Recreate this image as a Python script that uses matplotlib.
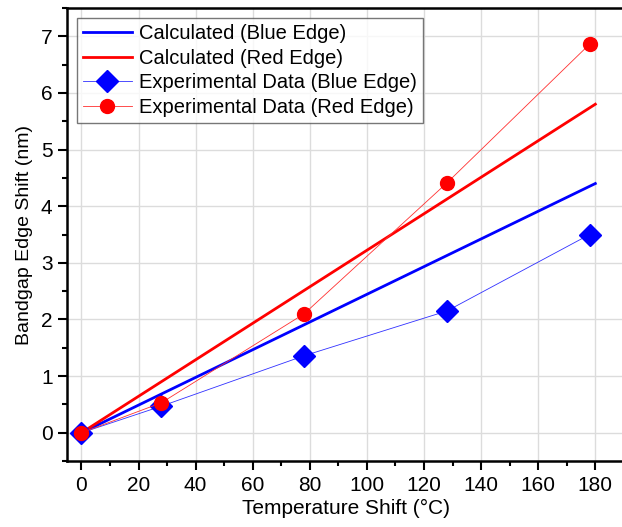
import matplotlib.pyplot as plt
import numpy as np
from matplotlib.ticker import MultipleLocator

plt.rcParams['font.family'] = ['Liberation Sans', 'DejaVu Sans']

# calculated shift (linear fits)
calc_t = [0, 180]
calc_blue = [0, 4.40]
calc_red = [0, 5.80]

# measured points
exp_t = [0, 28, 78, 128, 178]
exp_blue = [0, 0.47, 1.36, 2.15, 3.50]
exp_red = [0, 0.53, 2.10, 4.41, 6.86]

fig = plt.figure(figsize=(6.22, 5.27), dpi=100)
ax = fig.add_axes([0.108, 0.125, 0.895, 0.86])

ax.plot(calc_t, calc_blue, color='#0000ff', lw=2, label='Calculated (Blue Edge)')
ax.plot(calc_t, calc_red, color='#ff0000', lw=2, label='Calculated (Red Edge)')
ax.plot(exp_t, exp_blue, color='#3030ff', lw=0.6, marker='D', ms=11.5,
        mec='#0000ff', mfc='#0000ff', label='Experimental Data (Blue Edge)')
ax.plot(exp_t, exp_red, color='#ff3030', lw=0.6, marker='o', ms=10,
        mec='#ff0000', mfc='#ff0000', label='Experimental Data (Red Edge)')

ax.set_xlim(-5, 190)
ax.set_ylim(-0.5, 7.5)
ax.xaxis.set_major_locator(MultipleLocator(20))
ax.xaxis.set_minor_locator(MultipleLocator(10))
ax.yaxis.set_major_locator(MultipleLocator(1))
ax.yaxis.set_minor_locator(MultipleLocator(0.5))
ax.grid(True, which='major', color='#dcdcdc', lw=1)
ax.set_axisbelow(True)

for s in ['left', 'bottom', 'top']:
    ax.spines[s].set_linewidth(1.8)
ax.spines['right'].set_visible(False)
ax.tick_params(which='major', direction='out', length=6.5, width=1.5, labelsize=15, pad=4)
ax.tick_params(which='minor', direction='out', length=3.6, width=1.5)
ax.tick_params(top=False, right=False)

ax.set_xlabel('Temperature Shift (°C)', fontsize=15, labelpad=3)
ax.set_ylabel('Bandgap Edge Shift (nm)', fontsize=14, labelpad=6)

leg = ax.legend(loc='upper left', fontsize=14.5, frameon=True, fancybox=False,
                edgecolor='#555555', borderpad=0.3, labelspacing=0.28,
                handlelength=2.4, handletextpad=0.35, borderaxespad=0.5)
leg.get_frame().set_linewidth(1)

fig.savefig('out.png', dpi=100)
